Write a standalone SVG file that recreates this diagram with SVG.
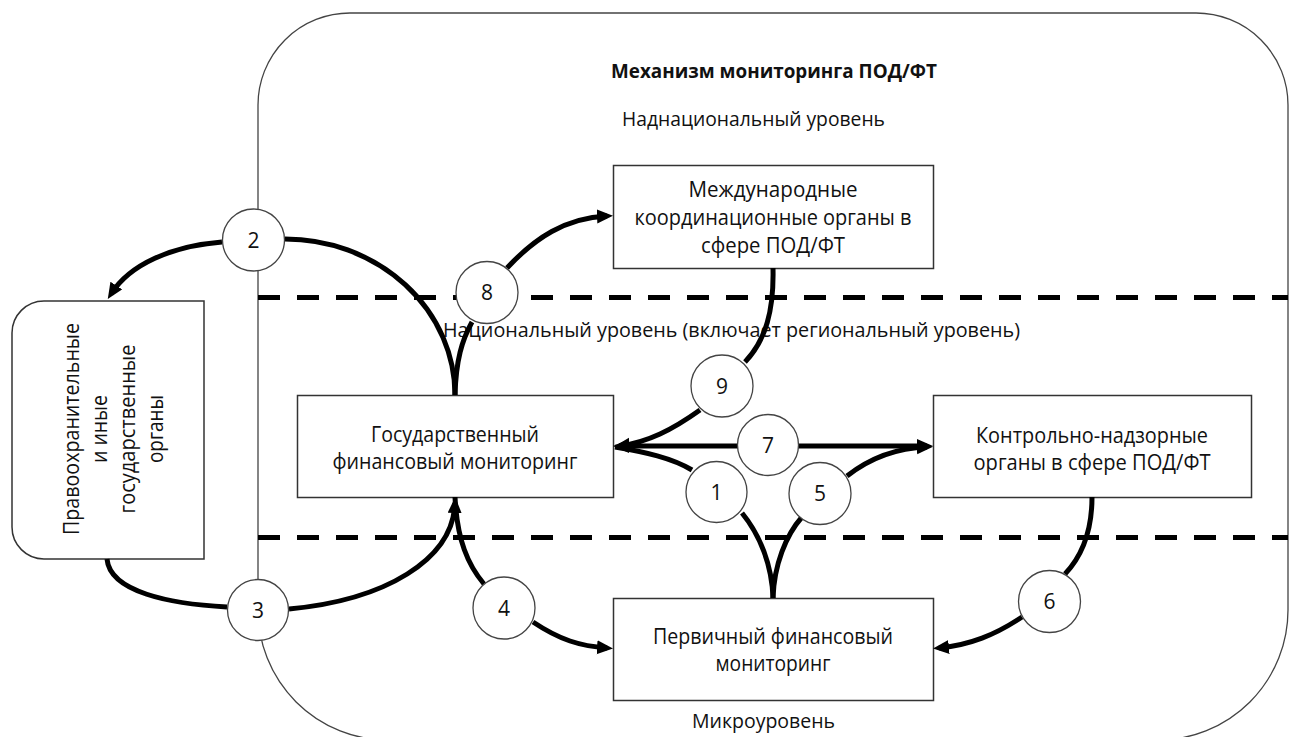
<svg xmlns="http://www.w3.org/2000/svg" width="1297" height="737" viewBox="0 0 1297 737">
<style>
text{font-family:"Open Sans","Liberation Sans",sans-serif;fill:#111;}
.t{font-size:21px;text-anchor:middle;}
.lv{font-size:20px;}
.box{fill:#fff;stroke:#333;stroke-width:1.5;}
.num{fill:#fff;stroke:#444;stroke-width:1.3;}
.c{fill:none;stroke:#000;stroke-width:5;}
.a{marker-end:url(#ah);}
.dash{stroke:#000;stroke-width:5;stroke-dasharray:22 17;}
</style>
<defs>
<marker id="ah" markerUnits="userSpaceOnUse" markerWidth="18" markerHeight="16" refX="10" refY="7" orient="auto-start-reverse">
<path d="M0,0 L16,7 L0,14 Z" fill="#000"/>
</marker>
</defs>
<rect width="1297" height="737" fill="#fff"/>
<g id="frame">
<path d="M350,13 L1196,13 A92,92 0 0 1 1288,105 L1288,610 A130,130 0 0 1 1158,740 L388,740 A130,130 0 0 1 258,610 L258,105 A92,92 0 0 1 350,13 Z" fill="none" stroke="#444" stroke-width="1.3"/>
<line class="dash" x1="258" y1="297.5" x2="1288" y2="297.5"/>
<line class="dash" x1="258" y1="537.5" x2="1288" y2="537.5"/>
<text x="774" y="78" font-size="19" font-weight="bold" text-anchor="middle" textLength="326" lengthAdjust="spacingAndGlyphs">Механизм мониторинга ПОД/ФТ</text>
<text class="lv" x="622" y="126" textLength="263" lengthAdjust="spacingAndGlyphs">Наднациональный уровень</text>
<text class="lv" x="443" y="337" textLength="577" lengthAdjust="spacingAndGlyphs">Национальный уровень (включает региональный уровень)</text>
<text class="lv" x="692" y="728" textLength="143" lengthAdjust="spacingAndGlyphs">Микроуровень</text>
</g>
<g id="node-intl">
<rect class="box" x="613.5" y="165.5" width="320" height="103"/>
<text class="t" x="773" y="197" textLength="169" lengthAdjust="spacingAndGlyphs">Международные</text>
<text class="t" x="773" y="225" textLength="277" lengthAdjust="spacingAndGlyphs">координационные органы в</text>
<text class="t" x="773" y="253" textLength="144" lengthAdjust="spacingAndGlyphs">сфере ПОД/ФТ</text>
</g>
<g id="node-gov">
<rect class="box" x="297.5" y="395.5" width="316" height="102"/>
<text class="t" x="455" y="442" textLength="168" lengthAdjust="spacingAndGlyphs">Государственный</text>
<text class="t" x="455" y="469" textLength="245" lengthAdjust="spacingAndGlyphs">финансовый мониторинг</text>
</g>
<g id="node-control">
<rect class="box" x="933.5" y="395.5" width="318" height="102"/>
<text class="t" x="1092" y="443" textLength="232" lengthAdjust="spacingAndGlyphs">Контрольно-надзорные</text>
<text class="t" x="1092" y="470" textLength="237" lengthAdjust="spacingAndGlyphs">органы в сфере ПОД/ФТ</text>
</g>
<g id="node-primary">
<rect class="box" x="613.5" y="598.5" width="320" height="102"/>
<text class="t" x="773" y="644" textLength="240" lengthAdjust="spacingAndGlyphs">Первичный финансовый</text>
<text class="t" x="773" y="671" textLength="115" lengthAdjust="spacingAndGlyphs">мониторинг</text>
</g>
<g id="node-law">
<path class="box" d="M204,301 L44,301 A32,32 0 0 0 12,333 L12,527 A32,32 0 0 0 44,559 L204,559 Z"/>
<text class="t" transform="translate(79,429) rotate(-90)" textLength="212" lengthAdjust="spacingAndGlyphs">Правоохранительные</text>
<text class="t" transform="translate(107,429) rotate(-90)" textLength="68" lengthAdjust="spacingAndGlyphs">и иные</text>
<text class="t" transform="translate(135,429) rotate(-90)" textLength="169" lengthAdjust="spacingAndGlyphs">государственные</text>
<text class="t" transform="translate(163,429) rotate(-90)" textLength="68" lengthAdjust="spacingAndGlyphs">органы</text>
</g>
<g id="connectors">
<path class="c" d="M285,239 A170,156 0 0 1 455,395"/>
<path class="c a" d="M222,242 C172,246 130,264 111,294"/>
<path class="c" d="M107,559 C110,592 170,604 227,607"/>
<path class="c a" d="M289,609 C385,600 453,560 455,503"/>
<path class="c" d="M455,497 C457,540 468,565 484,584"/>
<path class="c a" d="M533,622 C560,640 580,646 607,648"/>
<path class="c" d="M455,395 C456,360 462,340 472,322"/>
<path class="c a" d="M507,268 C535,238 565,218 607,216"/>
<path class="c" d="M773,268 C774,310 766,340 745,362"/>
<path class="c a" d="M700,410 C672,430 648,442 620,446"/>
<path class="c" d="M619,446 L927,446" marker-start="url(#ah)" marker-end="url(#ah)"/>
<path class="c" d="M615,447 C645,452 672,458 692,470"/>
<path class="c" d="M742,513 C760,535 772,565 773,598"/>
<path class="c" d="M773,598 C774,565 786,535 802,517"/>
<path class="c a" d="M847,476 C870,458 895,448 927,447"/>
<path class="c" d="M1092,497 C1092,530 1083,555 1065,574"/>
<path class="c a" d="M1022,617 C995,635 970,645 939,648"/>
</g>
<g id="label-1"><circle class="num" cx="716.5" cy="492" r="30.5"/><text class="t" x="716.5" y="499.5">1</text></g>
<g id="label-2"><circle class="num" cx="253.5" cy="240" r="31"/><text class="t" x="253.5" y="247.5">2</text></g>
<g id="label-3"><circle class="num" cx="258" cy="610" r="30.5"/><text class="t" x="258" y="617.5">3</text></g>
<g id="label-4"><circle class="num" cx="504" cy="608" r="31"/><text class="t" x="504" y="615.5">4</text></g>
<g id="label-5"><circle class="num" cx="820" cy="493.5" r="31"/><text class="t" x="820" y="501">5</text></g>
<g id="label-6"><circle class="num" cx="1049.5" cy="601.5" r="31"/><text class="t" x="1049.5" y="609">6</text></g>
<g id="label-7"><circle class="num" cx="768" cy="445" r="30.5"/><text class="t" x="768" y="452.5">7</text></g>
<g id="label-8"><circle class="num" cx="487" cy="292.5" r="31"/><text class="t" x="487" y="300">8</text></g>
<g id="label-9"><circle class="num" cx="722" cy="386" r="31"/><text class="t" x="722" y="393.5">9</text></g>
</svg>
